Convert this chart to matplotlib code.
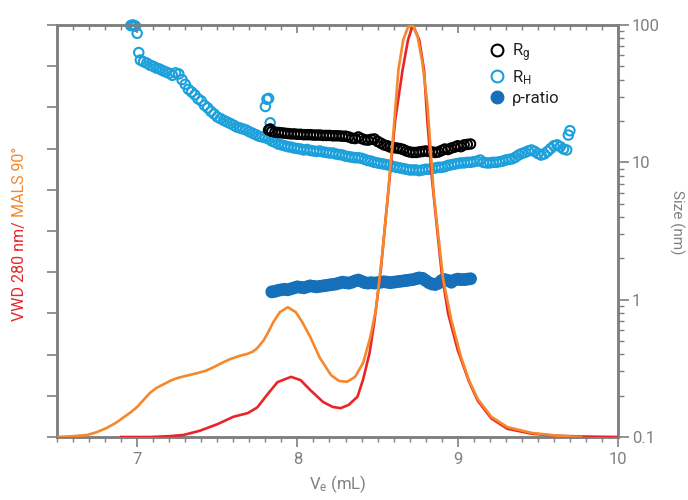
import matplotlib
matplotlib.use("Agg")
import matplotlib.pyplot as plt
from matplotlib.lines import Line2D
from matplotlib.ticker import MultipleLocator, LogLocator, NullFormatter, FixedLocator, FixedFormatter
import numpy as np

# ---------------- data ----------------
ve_mals = [6.50, 6.60, 6.69, 6.75, 6.81, 6.87, 6.92, 6.96, 7.00, 7.04, 7.08, 7.12, 7.17, 7.21, 7.25,
           7.31, 7.375, 7.43, 7.48, 7.53, 7.58, 7.64, 7.69, 7.725, 7.75, 7.79, 7.82, 7.85, 7.89, 7.94,
           7.99, 8.03, 8.08, 8.14, 8.21, 8.26, 8.31, 8.36, 8.41, 8.455, 8.49, 8.53, 8.56, 8.60, 8.63,
           8.66, 8.69, 8.72, 8.75, 8.78, 8.81, 8.83, 8.85, 8.88, 8.91, 8.96, 9.02, 9.07, 9.125, 9.21,
           9.31, 9.46, 9.625, 9.77]
mals = [0.0, 0.002, 0.005, 0.012, 0.022, 0.035, 0.049, 0.060, 0.073, 0.090, 0.107, 0.119, 0.129, 0.137, 0.143,
        0.149, 0.155, 0.161, 0.170, 0.180, 0.189, 0.197, 0.202, 0.208, 0.216, 0.235, 0.256, 0.279, 0.303, 0.315,
        0.303, 0.279, 0.243, 0.192, 0.150, 0.136, 0.134, 0.146, 0.180, 0.243, 0.310, 0.447, 0.568, 0.745, 0.891,
        0.964, 0.995, 1.0, 0.971, 0.908, 0.811, 0.704, 0.592, 0.485, 0.381, 0.284, 0.195, 0.138, 0.092, 0.049,
        0.024, 0.010, 0.003, 0.0]

ve_vwd = [6.90, 7.08, 7.20, 7.29, 7.39, 7.50, 7.60, 7.64, 7.69, 7.725, 7.75, 7.81, 7.875, 7.96, 8.02,
          8.08, 8.16, 8.22, 8.27, 8.32, 8.375, 8.41, 8.45, 8.48, 8.52, 8.55, 8.58, 8.61, 8.656, 8.69,
          8.72, 8.76, 8.79, 8.81, 8.84, 8.87, 8.90, 8.94, 9.00, 9.07, 9.125, 9.21, 9.31, 9.46, 9.62,
          9.80, 10.0]
vwd = [0.0, 0.0, 0.002, 0.005, 0.015, 0.031, 0.049, 0.053, 0.058, 0.066, 0.072, 0.102, 0.133, 0.146, 0.138,
       0.114, 0.085, 0.073, 0.070, 0.078, 0.098, 0.140, 0.204, 0.280, 0.405, 0.527, 0.648, 0.769, 0.891, 0.964,
       1.0, 0.964, 0.891, 0.770, 0.624, 0.510, 0.398, 0.300, 0.211, 0.135, 0.088, 0.045, 0.020, 0.008, 0.003,
       0.001, 0.0]

ve_rh = [6.96, 6.97, 6.98, 6.99, 7.00, 7.01, 7.02, 7.04, 7.06, 7.08, 7.10, 7.12, 7.14, 7.16, 7.18,
         7.20, 7.22, 7.24, 7.26, 7.28, 7.30, 7.32, 7.34, 7.36, 7.38, 7.40, 7.42, 7.44, 7.46, 7.48,
         7.50, 7.52, 7.54, 7.56, 7.58, 7.60, 7.62, 7.64, 7.66, 7.68, 7.70, 7.72, 7.74, 7.76, 7.78,
         7.80, 7.80, 7.81, 7.82, 7.82, 7.83, 7.84, 7.86, 7.88, 7.90, 7.92, 7.94, 7.96, 7.98, 8.00,
         8.02, 8.04, 8.06, 8.08, 8.10, 8.12, 8.14, 8.16, 8.18, 8.20, 8.22, 8.24, 8.26, 8.28, 8.30,
         8.32, 8.34, 8.36, 8.38, 8.40, 8.42, 8.44, 8.46, 8.48, 8.50, 8.52, 8.54, 8.56, 8.58, 8.60,
         8.62, 8.64, 8.66, 8.68, 8.70, 8.72, 8.74, 8.76, 8.78, 8.80, 8.82, 8.84, 8.86, 8.88, 8.90,
         8.92, 8.94, 8.96, 8.98, 9.00, 9.02, 9.04, 9.06, 9.08, 9.10, 9.12, 9.14, 9.16, 9.18, 9.20,
         9.22, 9.24, 9.26, 9.28, 9.30, 9.32, 9.34, 9.36, 9.38, 9.40, 9.42, 9.44, 9.46, 9.48, 9.50,
         9.52, 9.54, 9.56, 9.58, 9.60, 9.62, 9.64, 9.66, 9.68, 9.69, 9.70]
rh = [99.0, 100.0, 99.5, 98.0, 87.0, 63.0, 55.6, 54.0, 52.8, 51.0, 50.0, 48.6, 47.8, 46.5, 45.5,
      44.5, 43.0, 44.8, 44.0, 40.0, 37.0, 34.0, 32.5, 31.0, 29.0, 28.0, 26.0, 24.9, 23.5, 22.5,
      21.4, 20.8, 20.2, 19.7, 19.2, 18.7, 18.1, 17.8, 17.5, 17.2, 16.7, 16.3, 15.9, 15.5, 15.3,
      15.1, 25.5, 28.8, 14.8, 29.2, 19.4, 14.3, 14.0, 13.6, 13.4, 13.2, 13.0, 12.9, 12.7, 12.6,
      12.5, 12.3, 12.4, 12.2, 12.1, 12.0, 12.1, 11.9, 11.8, 11.7, 11.7, 11.5, 11.4, 11.3, 11.1,
      11.0, 10.9, 10.8, 10.8, 10.7, 10.5, 10.3, 10.2, 10.0, 9.9, 9.8, 9.7, 9.6, 9.5, 9.3,
      9.2, 9.1, 9.0, 8.9, 8.8, 8.8, 8.8, 8.7, 8.8, 8.9, 8.9, 9.0, 9.1, 9.2, 9.2,
      9.3, 9.5, 9.6, 9.7, 9.8, 9.9, 9.9, 10.0, 10.0, 10.1, 10.2, 10.4, 10.0, 9.9, 9.9,
      10.0, 10.0, 10.1, 10.2, 10.4, 10.5, 10.6, 10.9, 11.3, 11.6, 11.8, 12.1, 12.3, 12.0, 11.6,
      11.3, 11.5, 12.0, 12.6, 13.2, 13.4, 13.0, 12.5, 12.3, 15.8, 17.0]

ve_rg = [7.82, 7.83, 7.84, 7.86, 7.88, 7.90, 7.92, 7.94, 7.96, 7.98, 8.00, 8.02, 8.04, 8.06, 8.08,
         8.10, 8.12, 8.14, 8.16, 8.18, 8.20, 8.22, 8.24, 8.26, 8.28, 8.30, 8.32, 8.34, 8.36, 8.38,
         8.40, 8.42, 8.44, 8.46, 8.48, 8.50, 8.52, 8.54, 8.56, 8.58, 8.60, 8.62, 8.64, 8.66, 8.68,
         8.70, 8.72, 8.74, 8.76, 8.78, 8.80, 8.82, 8.84, 8.86, 8.88, 8.90, 8.92, 8.94, 8.96, 8.98,
         9.00, 9.02, 9.04, 9.06, 9.08]
rg = [17.2, 17.5, 16.8, 16.6, 16.5, 16.4, 16.3, 16.2, 16.1, 16.1, 16.0, 16.0, 15.9, 15.9, 15.9,
      15.8, 15.8, 15.8, 15.7, 15.7, 15.7, 15.6, 15.6, 15.6, 15.5, 15.5, 15.3, 15.0, 14.9, 15.3,
      14.9, 14.6, 14.5, 14.7, 14.8, 14.2, 13.8, 13.4, 13.2, 12.9, 12.8, 12.7, 12.6, 12.4, 12.1,
      11.9, 11.8, 11.8, 11.9, 12.0, 12.1, 12.0, 11.9, 11.8, 11.9, 12.2, 12.5, 12.4, 12.7, 12.9,
      13.2, 13.0, 13.4, 13.5, 13.6]

ve_rho = [7.84, 7.86, 7.88, 7.90, 7.92, 7.94, 7.96, 7.98, 8.00, 8.02, 8.04, 8.06, 8.08, 8.10, 8.12,
          8.14, 8.16, 8.18, 8.20, 8.22, 8.24, 8.26, 8.28, 8.30, 8.32, 8.34, 8.36, 8.38, 8.40, 8.42,
          8.44, 8.46, 8.48, 8.50, 8.52, 8.54, 8.56, 8.58, 8.60, 8.62, 8.64, 8.66, 8.68, 8.70, 8.72,
          8.74, 8.76, 8.78, 8.80, 8.82, 8.84, 8.86, 8.88, 8.90, 8.92, 8.94, 8.96, 8.98, 9.00, 9.02,
          9.04, 9.06, 9.08]
rho = [1.14, 1.15, 1.17, 1.18, 1.19, 1.18, 1.20, 1.22, 1.24, 1.23, 1.22, 1.24, 1.26, 1.25, 1.24,
       1.25, 1.26, 1.27, 1.28, 1.29, 1.30, 1.32, 1.34, 1.33, 1.32, 1.34, 1.37, 1.39, 1.36, 1.33,
       1.32, 1.33, 1.32, 1.33, 1.34, 1.35, 1.34, 1.33, 1.34, 1.35, 1.36, 1.37, 1.38, 1.39, 1.40,
       1.42, 1.44, 1.43, 1.38, 1.33, 1.30, 1.29, 1.32, 1.38, 1.40, 1.38, 1.34, 1.39, 1.41, 1.40,
       1.40, 1.41, 1.42]

x_ticks = [7, 8, 9, 10]
size_ticks = [0.1, 1, 10, 100]
size_tick_labels = ["0.1", "1", "10", "100"]

# ---------------- style ----------------
plt.rcParams['font.family'] = ['Roboto', 'DejaVu Sans']
plt.rcParams['mathtext.fontset'] = 'custom'
plt.rcParams['mathtext.rm'] = 'Roboto'
plt.rcParams['mathtext.it'] = 'Roboto'

GRAY = '#7f7f7f'
TXT = '#808080'
RED = '#e8262a'
ORANGE = '#f5882c'
LBLUE = '#1ca0dc'
DBLUE = '#1570b9'

fig = plt.figure(figsize=(6.88, 5.0), dpi=100)
ax = fig.add_axes([57/688, 1-437/500, (618-57)/688, (437-25)/500])
ax2 = ax.twinx()

# curves (left axis)
ax.plot(ve_vwd, vwd, color=RED, lw=1.9, zorder=3)
ax.plot(ve_mals, mals, color=ORANGE, lw=1.9, zorder=4)
ax.set_xlim(6.5, 10)
ax.set_ylim(0, 1)

# scatter (right axis)
ax2.set_yscale('log')
ax2.set_ylim(0.1, 100)
ax2.scatter(ve_rh, rh, s=46, facecolors='none', edgecolors=LBLUE, linewidths=1.5, zorder=3, clip_on=False)
ax2.scatter(ve_rg, rg, s=46, facecolors='none', edgecolors='black', linewidths=1.5, zorder=4)
ax2.scatter(ve_rho, rho, s=85, color=DBLUE, edgecolors='none', zorder=5)

# line axis on top of scatter
ax.set_zorder(ax2.get_zorder() + 1)
ax.patch.set_visible(False)

for a in (ax, ax2):
    for s in a.spines.values():
        s.set_color(GRAY)
        s.set_linewidth(1.8)

# x ticks
ax.xaxis.set_major_locator(FixedLocator(x_ticks))
ax.xaxis.set_minor_locator(MultipleLocator(0.1))
ax.tick_params(axis='x', which='major', direction='out', length=7, width=1.2, color=GRAY,
               labelsize=12, labelcolor=TXT, pad=4, top=False)
ax.tick_params(axis='x', which='minor', direction='out', length=3.5, width=1.0, color=GRAY, top=False)
# top ticks (inward)
axt = ax.secondary_xaxis('top')
axt.xaxis.set_major_locator(FixedLocator(x_ticks))
axt.xaxis.set_minor_locator(MultipleLocator(0.1))
axt.tick_params(axis='x', which='major', direction='in', length=6, width=1.2, color=GRAY, labeltop=False)
axt.tick_params(axis='x', which='minor', direction='in', length=3.5, width=1.0, color=GRAY)
axt.spines['top'].set_visible(False)

# left ticks
ax.yaxis.set_major_locator(MultipleLocator(0.1))
ax.tick_params(axis='y', which='major', direction='out', length=7, width=1.2, color=GRAY,
               labelleft=False)

# right ticks
ax2.yaxis.set_major_locator(FixedLocator(size_ticks))
ax2.yaxis.set_major_formatter(FixedFormatter(size_tick_labels))
ax2.yaxis.set_minor_locator(LogLocator(base=10, subs=np.arange(2, 10), numticks=20))
ax2.yaxis.set_minor_formatter(NullFormatter())
ax2.tick_params(axis='y', which='major', direction='out', length=8, width=1.2, color=GRAY,
                labelsize=12, labelcolor=TXT, pad=2)
ax2.tick_params(axis='y', which='minor', direction='out', length=4, width=1.0, color=GRAY)

ax.set_xlabel(r'V$_\mathregular{e}$ (mL)', fontsize=12, color=TXT, labelpad=4)

fig.text(677/688, 1-222/500, 'Size (nm)', rotation=270, fontsize=11, color=TXT,
         ha='center', va='center')

# two-coloured left label
t1 = fig.text(20/688, 1-321/500, 'VWD 280 nm/', rotation=90, fontsize=11.5, color=RED,
              ha='center', va='bottom')
fig.canvas.draw()
bb = t1.get_window_extent(fig.canvas.get_renderer())
y_top = bb.y1 / fig.bbox.height
fig.text(20/688, y_top + 4/500, 'MALS 90°', rotation=90, fontsize=11.5, color=ORANGE,
         ha='center', va='bottom')

# legend
handles = [
    Line2D([], [], ls='none', marker='o', markersize=8.5, markerfacecolor='none',
           markeredgecolor='black', markeredgewidth=1.5),
    Line2D([], [], ls='none', marker='o', markersize=8.5, markerfacecolor='none',
           markeredgecolor=LBLUE, markeredgewidth=1.5),
    Line2D([], [], ls='none', marker='o', markersize=9, markerfacecolor=DBLUE,
           markeredgecolor=DBLUE),
]
labels = [r'R$_\mathregular{g}$', r'R$_\mathregular{H}$', 'ρ-ratio']
leg = ax2.legend(handles, labels, loc='upper left', bbox_to_anchor=(479/688, 1-33/500),
                 bbox_transform=fig.transFigure, frameon=False, fontsize=12,
                 handletextpad=0.25, labelspacing=0.25, handlelength=1.2, borderpad=0)
for t in leg.get_texts():
    t.set_color('#222222')

fig.savefig('out.png', dpi=100)
